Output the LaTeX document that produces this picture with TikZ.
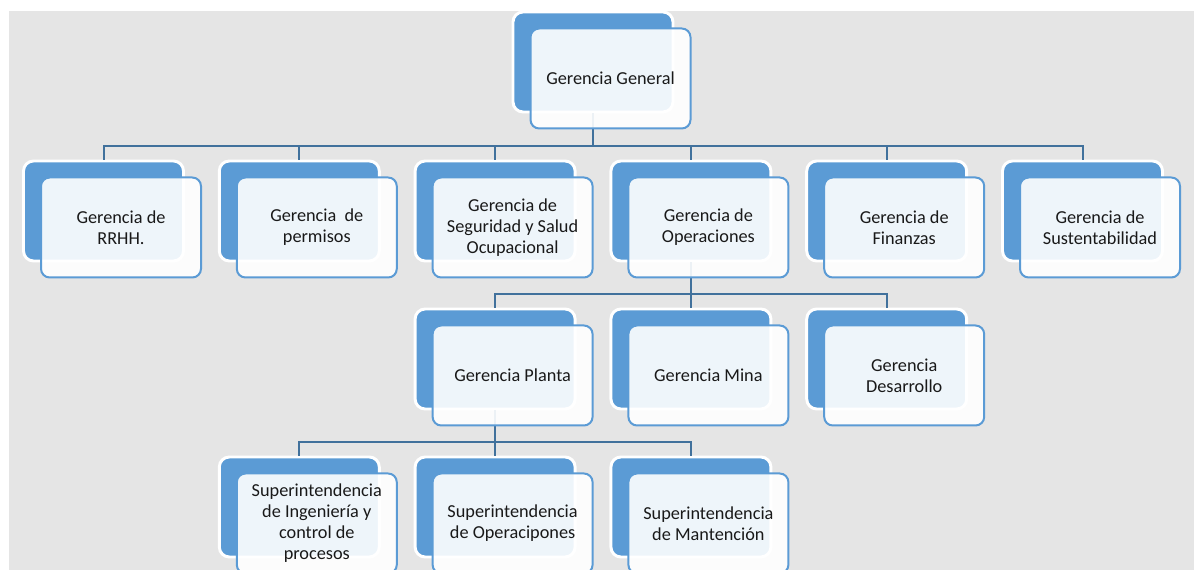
\documentclass[tikz,border=0pt]{standalone}
\usepackage{fontspec}
\setmainfont{Carlito}
\definecolor{boxblue}{RGB}{91,155,213}
\definecolor{linkblue}{RGB}{65,113,156}
\definecolor{bggray}{RGB}{229,229,229}
\begin{document}
\begin{tikzpicture}[x=0.75pt,y=-0.75pt,
    back/.style={rectangle,rounded corners=7.5pt,fill=boxblue,draw=white,
      line width=2.2pt,minimum width=120pt,minimum height=75pt},
    front/.style={rectangle,rounded corners=6.5pt,fill=white,fill opacity=0.9,
      text opacity=1,draw=boxblue,line width=1.5pt,minimum width=120pt,
      minimum height=75pt,align=center,text=black!90,
      font=\fontsize{13.7}{15.75}\selectfont},
    link/.style={draw=linkblue,line width=1.5pt}]
  \clip (0,0) rectangle (1197,570);
  \fill[bggray] (9,11) rectangle (1194,570);
  % back boxes
  \path
    (593,62) node[back] (gg){}
    (103.5,211) node[back] (rh){}
    (299.3,211) node[back] (pe){}
    (495.1,211) node[back] (ss){}
    (690.9,211) node[back] (op){}
    (886.7,211) node[back] (fi){}
    (1082.5,211) node[back] (su){}
    (495.1,359) node[back] (pl){}
    (690.9,359) node[back] (mi){}
    (886.7,359) node[back] (de){}
    (299.3,507) node[back] (ing){}
    (495.1,507) node[back] (ope){}
    (690.9,507) node[back] (man){};
  % connectors
  \begin{scope}[link]
    \draw (gg.south) -- ++(0,33) -| (rh.north);
    \draw (gg.south) -- ++(0,33) -| (pe.north);
    \draw (gg.south) -- ++(0,33) -| (ss.north);
    \draw (gg.south) -- ++(0,33) -| (op.north);
    \draw (gg.south) -- ++(0,33) -| (fi.north);
    \draw (gg.south) -- ++(0,33) -| (su.north);
    \draw (op.south) -- ++(0,32) -| (pl.north);
    \draw (op.south) -- ++(0,32) -| (mi.north);
    \draw (op.south) -- ++(0,32) -| (de.north);
    \draw (pl.south) -- ++(0,32) -| (ing.north);
    \draw (pl.south) -- ++(0,32) -| (ope.north);
    \draw (pl.south) -- ++(0,32) -| (man.north);
  \end{scope}
  % front boxes
  \path
    (610.5,78.5) node[front] (ggf){Gerencia General}
    (121,227.5) node[front] (rhf){Gerencia de\\RRHH.}
    (316.8,227.5) node[front] (pef){Gerencia\ \ de\\permisos}
    (512.6,227.5) node[front] (ssf){Gerencia de\\Seguridad y Salud\\Ocupacional}
    (708.4,227.5) node[front] (opf){Gerencia de\\Operaciones}
    (904.2,227.5) node[front] (fif){Gerencia de\\Finanzas}
    (1100,227.5) node[front] (suf){Gerencia de\\Sustentabilidad}
    (512.6,375.5) node[front] (plf){Gerencia Planta}
    (708.4,375.5) node[front] (mif){Gerencia Mina}
    (904.2,375.5) node[front] (def){Gerencia\\Desarrollo}
    (316.8,523.5) node[front] (ingf){Superintendencia\\de Ingeniería y\\control de\\procesos}
    (512.6,523.5) node[front] (opef){Superintendencia\\de Operacipones}
    (708.4,523.5) node[front] (manf){Superintendencia\\de Mantención};
\end{tikzpicture}
\end{document}
